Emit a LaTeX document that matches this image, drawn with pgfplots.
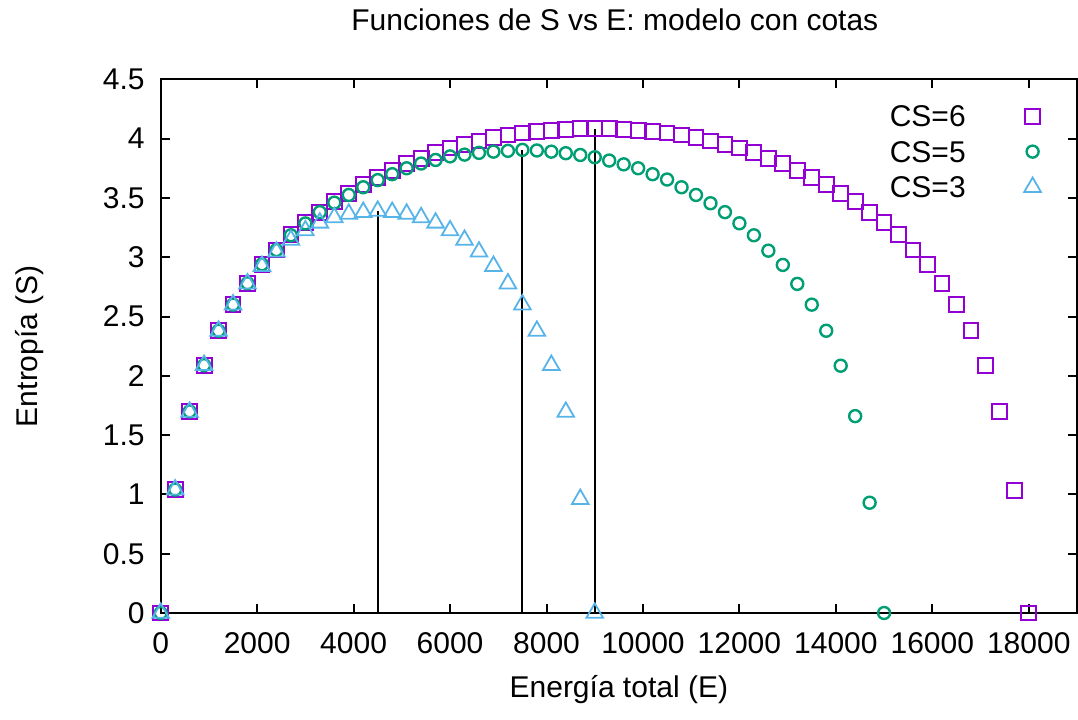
\documentclass[border=0pt]{standalone}
\usepackage{pgfplots}
\usepackage{pgfplotstable}
\pgfplotsset{compat=1.18}
\usepackage{fontspec}
\setmainfont{Liberation Sans}

\definecolor{cssix}{HTML}{9400D3}
\definecolor{csfive}{HTML}{009E73}
\definecolor{csthree}{HTML}{56B4E9}

% Entropy S as a function of total energy E, step 300
\pgfplotstableread{
E S
0 0
300 1.04
600 1.70
900 2.09
1200 2.38
1500 2.60
1800 2.78
2100 2.94
2400 3.06
2700 3.19
3000 3.29
3300 3.38
3600 3.47
3900 3.54
4200 3.61
4500 3.67
4800 3.73
5100 3.79
5400 3.83
5700 3.88
6000 3.92
6300 3.95
6600 3.98
6900 4.01
7200 4.03
7500 4.047
7800 4.06
8100 4.071
8400 4.079
8700 4.083
9000 4.085
9300 4.083
9600 4.079
9900 4.071
10200 4.06
10500 4.047
10800 4.03
11100 4.01
11400 3.98
11700 3.95
12000 3.92
12300 3.88
12600 3.83
12900 3.79
13200 3.73
13500 3.67
13800 3.61
14100 3.54
14400 3.47
14700 3.38
15000 3.29
15300 3.19
15600 3.06
15900 2.94
16200 2.78
16500 2.60
16800 2.38
17100 2.09
17400 1.70
17700 1.03
18000 0
}\csSix

\pgfplotstableread{
E S
0 0
300 1.04
600 1.70
900 2.09
1200 2.38
1500 2.60
1800 2.78
2100 2.94
2400 3.06
2700 3.185
3000 3.285
3300 3.38
3600 3.46
3900 3.525
4200 3.59
4500 3.65
4800 3.70
5100 3.75
5400 3.79
5700 3.82
6000 3.85
6300 3.865
6600 3.88
6900 3.89
7200 3.897
7500 3.905
7800 3.90
8100 3.89
8400 3.877
8700 3.862
9000 3.843
9300 3.815
9600 3.783
9900 3.75
10200 3.70
10500 3.655
10800 3.59
11100 3.525
11400 3.455
11700 3.38
12000 3.286
12300 3.185
12600 3.055
12900 2.935
13200 2.775
13500 2.60
13800 2.38
14100 2.085
14400 1.66
14700 0.93
15000 0
}\csFive

\pgfplotstableread{
E S
0 0
300 1.04
600 1.695
900 2.09
1200 2.378
1500 2.60
1800 2.777
2100 2.925
2400 3.046
2700 3.145
3000 3.225
3300 3.29
3600 3.335
3900 3.365
4200 3.38
4500 3.39
4800 3.38
5100 3.365
5400 3.335
5700 3.29
6000 3.225
6300 3.145
6600 3.046
6900 2.925
7200 2.777
7500 2.60
7800 2.378
8100 2.09
8400 1.695
8700 0.96
9000 0
}\csThree

\begin{document}
\fontsize{15pt}{18pt}\selectfont
\begin{tikzpicture}
\useasboundingbox (-80.35pt,-53pt) rectangle (458.65pt,306.5pt);
\begin{axis}[
  scale only axis,
  width=458.15pt, height=266.85pt,
  xmin=0, xmax=19000, ymin=0, ymax=4.5,
  xtick={0,2000,4000,6000,8000,10000,12000,14000,16000,18000},
  ytick={0,0.5,1,1.5,2,2.5,3,3.5,4,4.5},
  scaled x ticks=false,
  /pgf/number format/.cd, fixed, 1000 sep={}, assume math mode=true,
  /pgfplots/.cd,
  axis line style={line width=1pt, black},
  every tick/.style={black, line width=1pt},
  major tick length=4.5pt,
  tick align=inside,
  xticklabel style={yshift=-4.5pt},
  yticklabel style={xshift=-2.85pt},
  clip=false,
  title={Funciones de S vs E: modelo con cotas},
  title style={at={([xshift=-2pt,yshift=23.65pt]axis description cs:0.5,1)}, anchor=center},
  xlabel={Energía total (E)},
  every axis x label/.style={at={([yshift=-38.5pt]axis description cs:0.5,0)}, anchor=center},
  ylabel={Entropía (S)},
  every axis y label/.style={at={([xshift=-65.35pt]axis description cs:0,0.5)}, rotate=90, anchor=center},
  legend plot pos=right,
  legend cell align=right,
  legend image code/.code={\draw[#1] plot coordinates {(0pt,0pt)};},
  legend style={at={(axis description cs:1,1)}, anchor=north east,
    xshift=-17.84pt, yshift=-12.95pt, draw=none, fill=none,
    inner sep=0pt, row sep=7.25pt, column sep=29.3pt,
    nodes={inner sep=0pt, text height=10.5pt, text depth=0pt}},
]
\addplot[only marks, mark=square, mark size=3.7pt, color=cssix,
  mark options={line width=1pt}] table[x=E, y=S] {\csSix};
\addlegendentry{CS=6}
\addplot[only marks, mark=o, mark size=3.0pt, color=csfive,
  mark options={line width=1.2pt}] table[x=E, y=S] {\csFive};
\addlegendentry{CS=5}
\addplot[only marks, mark=triangle, mark size=4.8pt, color=csthree,
  mark options={line width=0.9pt}] table[x=E, y=S] {\csThree};
\addlegendentry{CS=3}
% vertical markers at the maximum of each curve
\addplot[black, line width=1pt, forget plot] coordinates {(4500,0) (4500,3.39)};
\addplot[black, line width=1pt, forget plot] coordinates {(7500,0) (7500,3.905)};
\addplot[black, line width=1pt, forget plot] coordinates {(9000,0) (9000,4.085)};
\end{axis}
\end{tikzpicture}
\end{document}
